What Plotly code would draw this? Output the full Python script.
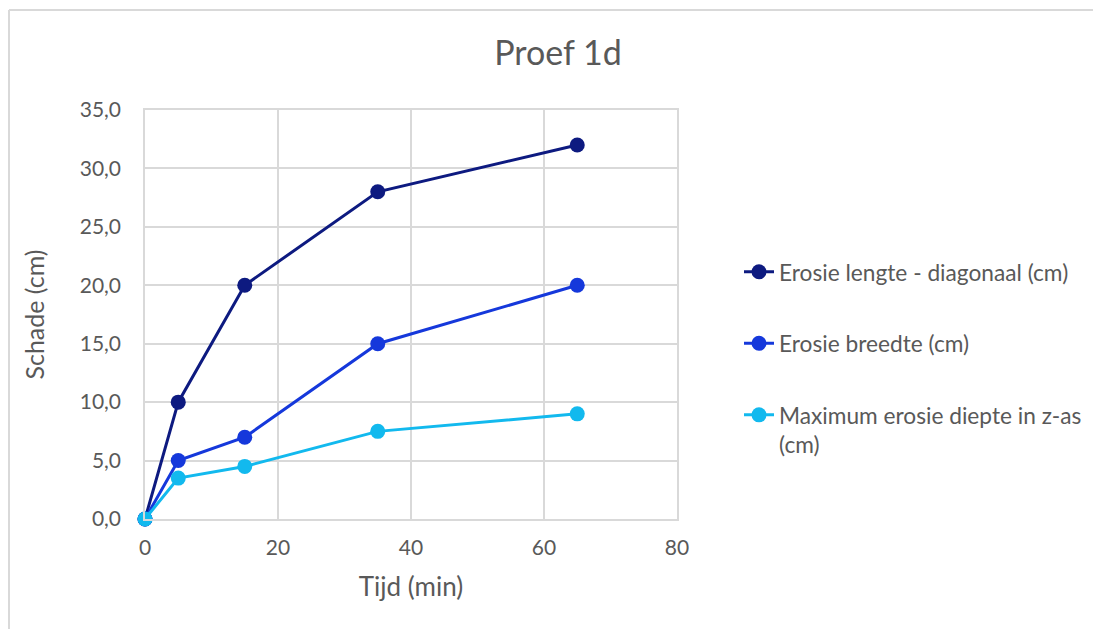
import plotly.graph_objects as go

tijd = [0, 5, 15, 35, 65]
lengte = [0, 10, 20, 28, 32]
breedte = [0, 5, 7, 15, 20]
diepte = [0, 3.5, 4.5, 7.5, 9]
names = ["Erosie lengte - diagonaal (cm)", "Erosie breedte (cm)",
         "Maximum erosie diepte in z-as<br>(cm)"]
colors = ["#0D1A80", "#1538DB", "#12B9EE"]

OFF = 8  # page body margin
W, H = 1101 - OFF, 629 - OFF
L, R, T, B = 145 - OFF, 677 - OFF, 110 - OFF, 519 - OFF

fig = go.Figure()
for i, (ys, nm, c) in enumerate([(lengte, names[0], colors[0]),
                                  (breedte, names[1], colors[1]),
                                  (diepte, names[2], colors[2])]):
    fig.add_trace(go.Scatter(x=tijd, y=ys, name=nm, mode="lines+markers",
                             line=dict(color=c, width=3),
                             marker=dict(color=c, size=15),
                             cliponaxis=False, legendgroup=str(i)))

font = "Lato, 'Open Sans', sans-serif"
grid = "#D9D9D9"
fig.update_layout(
    width=W, height=H,
    margin=dict(l=L, r=W - R, t=T, b=H - B, pad=0),
    paper_bgcolor="white", plot_bgcolor="white",
    separators=",.",
    font=dict(family=font, color="#595959", size=21),
    title=dict(text="Proef 1d", x=(558 - OFF) / W, xanchor="center",
               y=1 - (53 - OFF) / H, yanchor="middle",
               font=dict(size=34, color="#595959", family=font)),
    xaxis=dict(range=[0, 80], dtick=20, tick0=0, showgrid=True, gridcolor=grid,
               gridwidth=1.5, zeroline=False, showline=True, linecolor=grid,
               linewidth=1.5, mirror=True, ticklabelstandoff=9,
               tickfont=dict(size=21),
               title=dict(text="Tijd (min)", font=dict(size=26), standoff=20)),
    yaxis=dict(range=[0, 35], dtick=5, tick0=0, tickformat=".1f", showgrid=True,
               gridcolor=grid, gridwidth=1.5, zeroline=False, showline=True,
               linecolor=grid, linewidth=1.5, mirror=True, ticklabelstandoff=18,
               tickfont=dict(size=21),
               title=dict(text="Schade (cm)", font=dict(size=25), standoff=28)),
    legend=dict(x=(739 - 145) / (677 - 145), xanchor="left",
                y=(519 - 271) / (519 - 110) + 0.05,
                yanchor="top", font=dict(size=22.7, color="#595959"),
                tracegroupgap=39, itemwidth=30, valign="top",
                bgcolor="rgba(0,0,0,0)"),
    showlegend=True,
)

# outer chart border (left and top)
px = lambda x: (x - OFF - L) / (R - L)
py = lambda y: (B - (y - OFF)) / (B - T)
fig.add_shape(type="line", xref="paper", yref="paper", x0=px(9), y0=py(10),
              x1=px(1101), y1=py(10), line=dict(color="#D9D9D9", width=2))
fig.add_shape(type="line", xref="paper", yref="paper", x0=px(9), y0=py(10),
              x1=px(9), y1=py(629), line=dict(color="#D9D9D9", width=2))

fig.write_html("out.html")
